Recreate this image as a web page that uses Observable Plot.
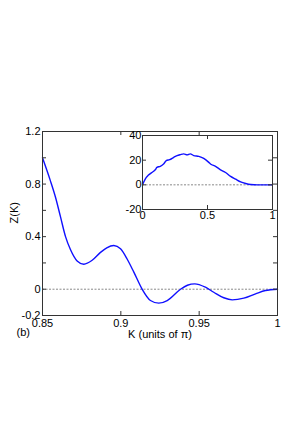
<!DOCTYPE html>
<html>
<head>
<meta charset="utf-8">
<script src="https://cdn.jsdelivr.net/npm/d3@7"></script>
<script src="https://cdn.jsdelivr.net/npm/@observablehq/plot@0.6"></script>
<style>
  html, body { margin: 0; padding: 0; background: #fff; }
  #wrap { position: relative; width: 300px; height: 429px; }
  #wrap svg { position: absolute; left: 0; top: 0; background: transparent; }
</style>
</head>
<body>
<div id="wrap"></div>
<script>
// Main curve Z(K), K in units of pi
const K = [0.850, 0.8549, 0.8583, 0.8615, 0.8647, 0.8679, 0.8721, 0.8764, 0.8817, 0.8870, 0.8910, 0.8955, 0.8998, 0.9040, 0.9083, 0.9136, 0.9189, 0.9242, 0.9296, 0.9381, 0.9425, 0.9472, 0.9540, 0.9593, 0.9657, 0.9711, 0.9785, 0.9860, 0.9923, 1.000];
const Z = [1.00, 0.83, 0.70, 0.55, 0.40, 0.30, 0.215, 0.19, 0.22, 0.28, 0.315, 0.333, 0.307, 0.23, 0.13, 0.0, -0.086, -0.106, -0.086, 0.0, 0.03, 0.041, 0.015, -0.023, -0.065, -0.081, -0.068, -0.035, -0.01, 0.0];
const xTicks = [0.85, 0.9, 0.95, 1];
const yTicks = [-0.2, 0, 0.2, 0.4, 0.6, 0.8, 1.0, 1.2];
const yLabelTicks = [-0.2, 0, 0.4, 0.8, 1.2];

// Inset: full range
const insetX = [0, 0.021, 0.046, 0.072, 0.098, 0.111, 0.137, 0.162, 0.183, 0.209, 0.24, 0.266, 0.291, 0.317, 0.343, 0.368, 0.394, 0.433, 0.471, 0.51, 0.523, 0.562, 0.6, 0.639, 0.678, 0.716, 0.755, 0.794, 0.832, 0.884, 0.95, 1];
const insetY = [0, 4.6, 7.9, 10, 12.2, 14.1, 15, 16.9, 19.6, 20.4, 22.3, 23.7, 24.5, 25.1, 24.3, 25.1, 23.7, 23.1, 21.5, 18.2, 16.9, 15, 12.2, 10, 6.8, 4.6, 2.4, 1.1, 0.3, 0, 0, 0];
const insetXTicks = [0, 0.5, 1];
const insetYTicks = [-20, 0, 20, 40];

const xLabel = "K (units of π)";
const yLabel = "Z(K)";
const panelLabel = "(b)";

const main = K.map((k, i) => ({k, z: Z[i]}));
const inset = insetX.map((x, i) => ({x, y: insetY[i]}));
const fmt = d => String(d);
const FONT = "Liberation Sans, Arial, sans-serif";
const AX = "#333";
const TICK = 4;

const W = 300, H = 429;
const mL = 42, mR = 23, mT = 131, mB = 114;
const pw = W - mL - mR, ph = H - mT - mB;

const p1 = Plot.plot({
  width: W, height: H,
  marginLeft: mL, marginRight: mR, marginTop: mT, marginBottom: mB,
  style: {fontFamily: FONT, fontSize: "11px", color: "#000", background: "transparent"},
  x: {domain: [0.85, 1]},
  y: {domain: [-0.2, 1.2]},
  marks: [
    Plot.ruleY([0], {stroke: "#888", strokeDasharray: "2,1.5", strokeWidth: 1}),
    Plot.line(main, {x: "k", y: "z", stroke: "#1010ff", strokeWidth: 1.4, curve: "monotone-x"}),
    Plot.tickX(xTicks, {x: d => d, stroke: AX, insetTop: ph - TICK}),
    Plot.tickX(xTicks, {x: d => d, stroke: AX, insetBottom: ph - TICK}),
    Plot.tickY(yTicks, {y: d => d, stroke: AX, insetRight: pw - TICK}),
    Plot.tickY(yTicks, {y: d => d, stroke: AX, insetLeft: pw - TICK}),
    Plot.frame({stroke: AX}),
    Plot.axisX(xTicks, {tickSize: 0, tickPadding: 4, tickFormat: fmt, label: null, fill: "#000"}),
    Plot.axisY(yLabelTicks, {tickSize: 0, tickPadding: 2, tickFormat: fmt, label: null, fill: "#000"}),
    Plot.text([xLabel], {frameAnchor: "bottom", dy: 18.5, lineAnchor: "middle", fill: "#000"}),
    Plot.text([yLabel], {frameAnchor: "left", dx: -28.5, rotate: -90, lineAnchor: "middle", fill: "#000"}),
    Plot.text([panelLabel], {frameAnchor: "bottom-left", dx: -26, dy: 16.5, lineAnchor: "middle", textAnchor: "start", fill: "#000"})
  ]
});

const iL = 142, iR = 28, iT = 135, iB = 220;
const ipw = W - iL - iR, iph = H - iT - iB;
const p2 = Plot.plot({
  width: W, height: H,
  marginLeft: iL, marginRight: iR, marginTop: iT, marginBottom: iB,
  style: {fontFamily: FONT, fontSize: "11px", color: "#000", background: "transparent"},
  x: {domain: [0, 1]},
  y: {domain: [-20, 40]},
  marks: [
    Plot.frame({fill: "#fff", stroke: "none"}),
    Plot.ruleY([0], {stroke: "#888", strokeDasharray: "2,1.5", strokeWidth: 1}),
    Plot.line(inset, {x: "x", y: "y", stroke: "#1010ff", strokeWidth: 1.4, curve: "monotone-x"}),
    Plot.tickX(insetXTicks, {x: d => d, stroke: AX, insetTop: iph - TICK}),
    Plot.tickX(insetXTicks, {x: d => d, stroke: AX, insetBottom: iph - TICK}),
    Plot.tickY(insetYTicks, {y: d => d, stroke: AX, insetRight: ipw - TICK}),
    Plot.tickY(insetYTicks, {y: d => d, stroke: AX, insetLeft: ipw - TICK}),
    Plot.frame({stroke: AX}),
    Plot.axisX(insetXTicks, {tickSize: 0, tickPadding: 2, tickFormat: fmt, label: null, fill: "#000"}),
    Plot.axisY(insetYTicks, {tickSize: 0, tickPadding: 1, tickFormat: fmt, label: null, fill: "#000"})
  ]
});

const wrap = document.getElementById("wrap");
wrap.appendChild(p1);
wrap.appendChild(p2);
</script>
</body>
</html>
